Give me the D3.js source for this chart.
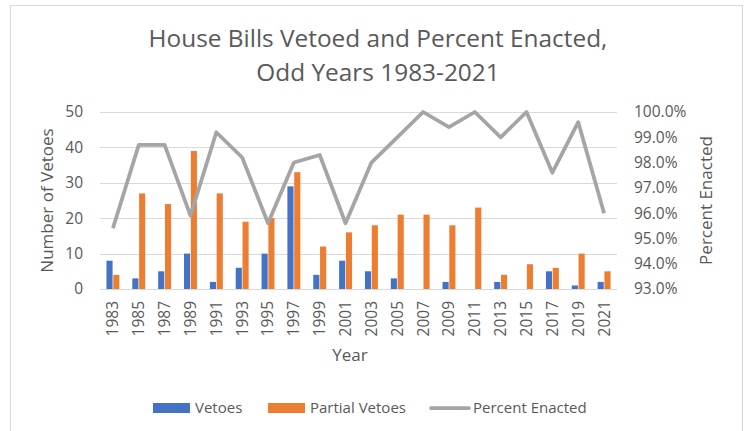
<!DOCTYPE html>
<html>
<head>
<meta charset="utf-8">
<script src="https://cdn.jsdelivr.net/npm/d3@7"></script>
<style>
  body { margin: 0; background: #fff; }
  text { font-family: "Open Sans", sans-serif; fill: #595959; }
</style>
</head>
<body>
<svg id="chart" width="750" height="431"></svg>
<script>
const years = ['1983', '1985', '1987', '1989', '1991', '1993', '1995', '1997', '1999', '2001',
  '2003', '2005', '2007', '2009', '2011', '2013', '2015', '2017', '2019', '2021'];
const vetoes = [8, 3, 5, 10, 2, 6, 10, 29, 4, 8, 5, 3, 0, 2, 0, 2, 0, 5, 1, 2];
const partialVetoes = [4, 27, 24, 39, 27, 19, 20, 33, 12, 16, 18, 21, 21, 18, 23, 4, 7, 6, 10, 5];
const percentEnacted = [0.954, 0.987, 0.987, 0.959, 0.992, 0.982, 0.956, 0.980, 0.983, 0.956,
  0.980, 0.990, 1.0, 0.994, 1.0, 0.990, 1.0, 0.976, 0.996, 0.960];
const leftTicks = [0, 10, 20, 30, 40, 50];
const rightTicks = [0.93, 0.94, 0.95, 0.96, 0.97, 0.98, 0.99, 1.0];

const blue = '#4472C4';
const orange = '#ED7D31';
const gray = '#A5A5A5';
const tickFont = '15.5px';
const axisTitleFont = '17px';

const svg = d3.select('#chart');
const plot = { left: 100, right: 617, top: 112, bottom: 289 };

// chart frame
svg.append('rect')
  .attr('x', 10.5).attr('y', 5.5)
  .attr('width', 732).attr('height', 440)
  .attr('fill', 'none').attr('stroke', '#D9D9D9');

const x = d3.scaleBand().domain(years).range([plot.left, plot.right]).paddingInner(0.5).paddingOuter(0.25);
const xSub = d3.scaleBand().domain(['v', 'p']).range([0, x.bandwidth()]).paddingInner(0.1);
const y = d3.scaleLinear().domain([0, 50]).range([plot.bottom, plot.top]);
const y2 = d3.scaleLinear().domain([0.93, 1.0]).range([plot.bottom, plot.top]);

// gridlines
svg.append('g')
  .selectAll('line')
  .data(leftTicks)
  .join('line')
  .attr('x1', plot.left).attr('x2', plot.right)
  .attr('y1', (d) => Math.round(y(d)) + 0.5).attr('y2', (d) => Math.round(y(d)) + 0.5)
  .attr('stroke', '#D9D9D9').attr('stroke-width', 1);

function styleTicks(g) {
  g.select('.domain').remove();
  g.selectAll('text')
    .style('font-size', tickFont)
    .style('font-family', '"Open Sans", sans-serif')
    .attr('fill', '#595959');
}

// left axis
svg.append('g')
  .attr('transform', `translate(${plot.left},0)`)
  .call(d3.axisLeft(y).tickValues(leftTicks).tickSize(0).tickPadding(17))
  .call(styleTicks);

// right axis
svg.append('g')
  .attr('transform', `translate(${plot.right},0)`)
  .call(d3.axisRight(y2).tickValues(rightTicks).tickFormat(d3.format('.1%')).tickSize(0).tickPadding(17))
  .call(styleTicks);

// bottom axis
svg.append('g')
  .attr('transform', `translate(0,${plot.bottom})`)
  .call(d3.axisBottom(x).tickSize(0).tickPadding(0))
  .call(styleTicks)
  .selectAll('text')
  .attr('transform', 'rotate(-90)')
  .attr('text-anchor', 'end')
  .attr('x', -12)
  .attr('y', 0)
  .attr('dy', '0.35em');

// bars
const groups = svg.append('g')
  .selectAll('g')
  .data(years)
  .join('g')
  .attr('transform', (d) => `translate(${x(d)},0)`);

groups.append('rect')
  .attr('x', xSub('v'))
  .attr('width', xSub.bandwidth())
  .attr('y', (d, i) => y(vetoes[i]))
  .attr('height', (d, i) => y(0) - y(vetoes[i]))
  .attr('fill', blue);

groups.append('rect')
  .attr('x', xSub('p'))
  .attr('width', xSub.bandwidth())
  .attr('y', (d, i) => y(partialVetoes[i]))
  .attr('height', (d, i) => y(0) - y(partialVetoes[i]))
  .attr('fill', orange);

// baseline
svg.append('line')
  .attr('x1', plot.left).attr('x2', plot.right)
  .attr('y1', plot.bottom + 0.5).attr('y2', plot.bottom + 0.5)
  .attr('stroke', '#D9D9D9');

// percent line
const line = d3.line()
  .x((d, i) => x(years[i]) + x.bandwidth() / 2)
  .y((d) => y2(d));

svg.append('path')
  .datum(percentEnacted)
  .attr('d', line)
  .attr('fill', 'none')
  .attr('stroke', gray)
  .attr('stroke-width', 3.75)
  .attr('stroke-linejoin', 'round');

// titles
svg.append('text')
  .attr('x', 378).attr('y', 47)
  .attr('text-anchor', 'middle')
  .style('font-size', '24.4px')
  .text('House Bills Vetoed and Percent Enacted,');
svg.append('text')
  .attr('x', 378).attr('y', 81)
  .attr('text-anchor', 'middle')
  .style('font-size', '24.4px')
  .text('Odd Years 1983-2021');

svg.append('text')
  .attr('transform', `translate(53,${(plot.top + plot.bottom) / 2}) rotate(-90)`)
  .attr('text-anchor', 'middle')
  .style('font-size', axisTitleFont)
  .text('Number of Vetoes');

svg.append('text')
  .attr('transform', `translate(712,${(plot.top + plot.bottom) / 2}) rotate(-90)`)
  .attr('text-anchor', 'middle')
  .style('font-size', axisTitleFont)
  .text('Percent Enacted');

svg.append('text')
  .attr('x', 350).attr('y', 361)
  .attr('text-anchor', 'middle')
  .style('font-size', axisTitleFont)
  .text('Year');

// legend
const legendItems = [
  { label: 'Vetoes', color: blue, type: 'rect', x: 153 },
  { label: 'Partial Vetoes', color: orange, type: 'rect', x: 268 },
  { label: 'Percent Enacted', color: gray, type: 'line', x: 431 },
];
const legend = svg.append('g').attr('transform', 'translate(0,408)');
legendItems.forEach((item) => {
  if (item.type === 'rect') {
    legend.append('rect')
      .attr('x', item.x).attr('y', -5)
      .attr('width', 37).attr('height', 10)
      .attr('fill', item.color);
  } else {
    legend.append('line')
      .attr('x1', item.x).attr('x2', item.x + 38)
      .attr('y1', 0).attr('y2', 0)
      .attr('stroke', item.color).attr('stroke-width', 3.75)
      .attr('stroke-linecap', 'round');
  }
  legend.append('text')
    .attr('x', item.x + 42).attr('y', 0)
    .attr('dy', '0.35em')
    .style('font-size', '15px')
    .text(item.label);
});
</script>
</body>
</html>
